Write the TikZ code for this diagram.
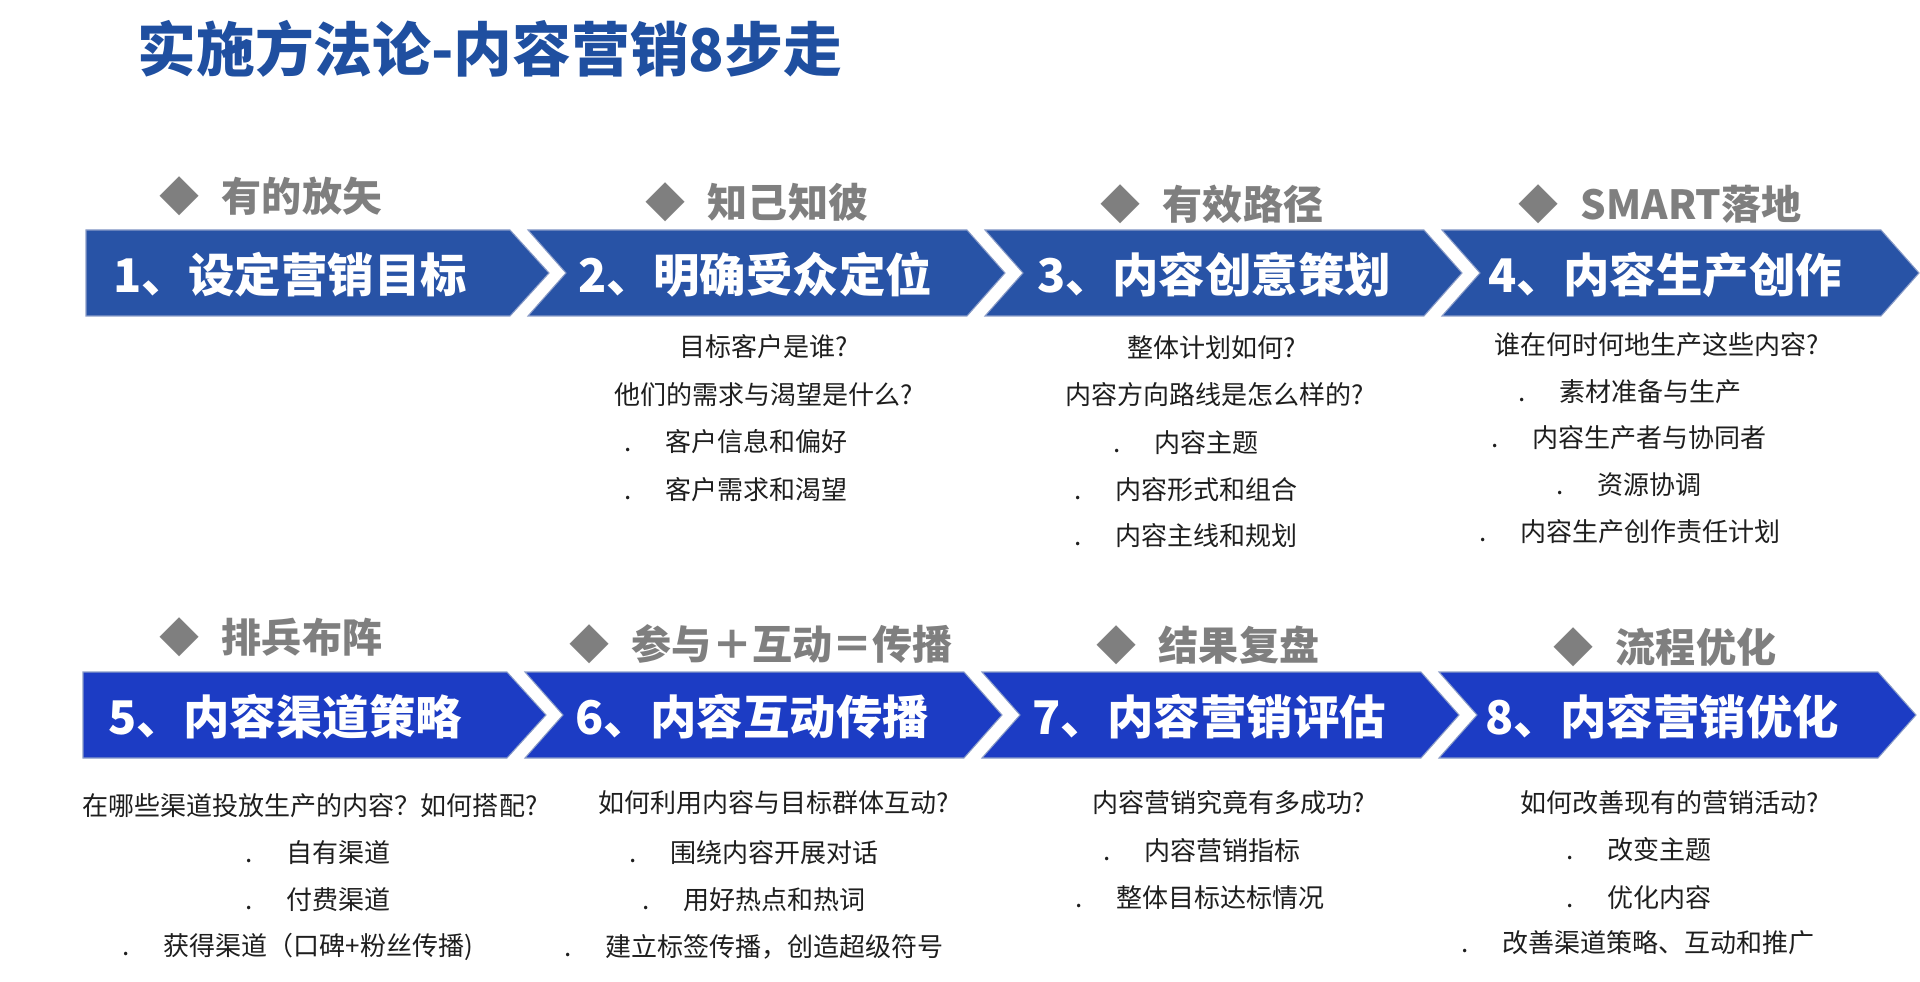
\documentclass[tikz,border=0pt]{standalone}
\usepackage{fontspec}
\setmainfont{Noto Sans CJK SC}
\definecolor{gTitle}{HTML}{1F4FA0}
\definecolor{gMotto}{HTML}{7F7F7F}
\definecolor{gRowA}{HTML}{2853A6}
\definecolor{gRowB}{HTML}{1C3CC4}
\definecolor{gEdge}{HTML}{8A9CC8}
\definecolor{gInk}{HTML}{1E1E1E}
\newcommand{\dotgap}{\makebox[11.6pt][l]{.}}
% flat-ended first step and notched following steps
\newcommand{\chevfirst}[3]{%
  \path[fill=#3, draw=gEdge, line width=.3pt]
    (#1,#2) -- ++(424,0) -- ++(39,43) -- ++(-39,43) -- ++(-424,0) -- cycle;}
\newcommand{\chevnext}[3]{%
  \path[fill=#3, draw=gEdge, line width=.3pt]
    (#1,#2) -- ++(439,0) -- ++(38,43) -- ++(-38,43) -- ++(-439,0) -- ++(38,-43) -- cycle;}

\begin{document}
\begin{tikzpicture}[
  x=0.01cm, y=-0.01cm,
  headline/.style={anchor=west, inner sep=0pt, text=gTitle,
    font=\fontsize{16.7}{18}\selectfont\bfseries},
  motto/.style={anchor=west, inner sep=0pt, text=gMotto,
    font=\fontsize{11.4}{13}\selectfont\bfseries},
  steplab/.style={anchor=west, inner sep=0pt, text=white,
    font=\fontsize{13.2}{15}\selectfont\bfseries},
  ask/.style={anchor=center, inner sep=0pt, text=gInk,
    font=\fontsize{7.4}{9}\selectfont},
  pointline/.style={anchor=west, inner sep=0pt, text=gInk,
    font=\fontsize{7.4}{9}\selectfont},
]
\useasboundingbox (0,0) rectangle (1920,982);

% ---- title ---------------------------------------------------------------
\node[headline] (title) at (137,49) {实施方法论-内容营销8步走};

% ---- upper row of steps --------------------------------------------------
\chevfirst{86}{230}{gRowA}
\chevnext{528}{230}{gRowA}
\chevnext{985}{230}{gRowA}
\chevnext{1442}{230}{gRowA}
\node[motto] (m1) at (159,196) {◆\hspace{0.55em}有的放矢};
\node[motto] (m2) at (645,202) {◆\hspace{0.55em}知己知彼};
\node[motto] (m3) at (1100,204) {◆\hspace{0.55em}有效路径};
\node[motto] (m4) at (1518,204) {◆\hspace{0.55em}SMART落地};
\node[steplab] (s1) at (113,275) {1、设定营销目标};
\node[steplab] (s2) at (578,275) {2、明确受众定位};
\node[steplab] (s3) at (1037,275) {3、内容创意策划};
\node[steplab] (s4) at (1488,275) {4、内容生产创作};

% ---- lower row of steps --------------------------------------------------
\chevfirst{83}{672}{gRowB}
\chevnext{525}{672}{gRowB}
\chevnext{982}{672}{gRowB}
\chevnext{1439}{672}{gRowB}
\node[motto] (m5) at (159,637) {◆\hspace{0.55em}排兵布阵};
\node[motto] (m6) at (569,644) {◆\hspace{0.55em}参与＋互动＝传播};
\node[motto] (m7) at (1096,645) {◆\hspace{0.55em}结果复盘};
\node[motto] (m8) at (1553,647) {◆\hspace{0.55em}流程优化};
\node[steplab] (s5) at (108,717) {5、内容渠道策略};
\node[steplab] (s6) at (575,717) {6、内容互动传播};
\node[steplab] (s7) at (1032,717) {7、内容营销评估};
\node[steplab] (s8) at (1485,717) {8、内容营销优化};

% ---- questions under the upper row ---------------------------------------
\node[ask] (q2a) at (764,347) {目标客户是谁?};
\node[ask] (q2b) at (764,395) {他们的需求与渴望是什么?};
\node[pointline] (p2a) at (624,442) {\dotgap 客户信息和偏好};
\node[pointline] (p2b) at (624,490) {\dotgap 客户需求和渴望};

\node[ask] (q3a) at (1212,348) {整体计划如何?};
\node[ask] (q3b) at (1215,395) {内容方向路线是怎么样的?};
\node[pointline] (p3a) at (1113,443) {\dotgap 内容主题};
\node[pointline] (p3b) at (1074,490) {\dotgap 内容形式和组合};
\node[pointline] (p3c) at (1074,536) {\dotgap 内容主线和规划};

\node[ask] (q4a) at (1657,345) {谁在何时何地生产这些内容?};
\node[pointline] (p4a) at (1518,392) {\dotgap 素材准备与生产};
\node[pointline] (p4b) at (1491,438) {\dotgap 内容生产者与协同者};
\node[pointline] (p4c) at (1556,485) {\dotgap 资源协调};
\node[pointline] (p4d) at (1479,532) {\dotgap 内容生产创作责任计划};

% ---- questions under the lower row ---------------------------------------
\node[ask] (q5a) at (310,806) {在哪些渠道投放生产的内容？如何搭配?};
\node[pointline] (p5a) at (245,853) {\dotgap 自有渠道};
\node[pointline] (p5b) at (245,900) {\dotgap 付费渠道};
\node[pointline] (p5c) at (122,947) {\dotgap 获得渠道（口碑+粉丝传播)};

\node[ask] (q6a) at (774,803) {如何利用内容与目标群体互动?};
\node[pointline] (p6a) at (629,853) {\dotgap 围绕内容开展对话};
\node[pointline] (p6b) at (642,900) {\dotgap 用好热点和热词};
\node[pointline] (p6c) at (564,947) {\dotgap 建立标签传播，创造超级符号};

\node[ask] (q7a) at (1229,803) {内容营销究竟有多成功?};
\node[pointline] (p7a) at (1103,851) {\dotgap 内容营销指标};
\node[pointline] (p7b) at (1075,898) {\dotgap 整体目标达标情况};

\node[ask] (q8a) at (1670,803) {如何改善现有的营销活动?};
\node[pointline] (p8a) at (1566,850) {\dotgap 改变主题};
\node[pointline] (p8b) at (1566,898) {\dotgap 优化内容};
\node[pointline] (p8c) at (1461,943) {\dotgap 改善渠道策略、互动和推广};
\end{tikzpicture}
\end{document}
